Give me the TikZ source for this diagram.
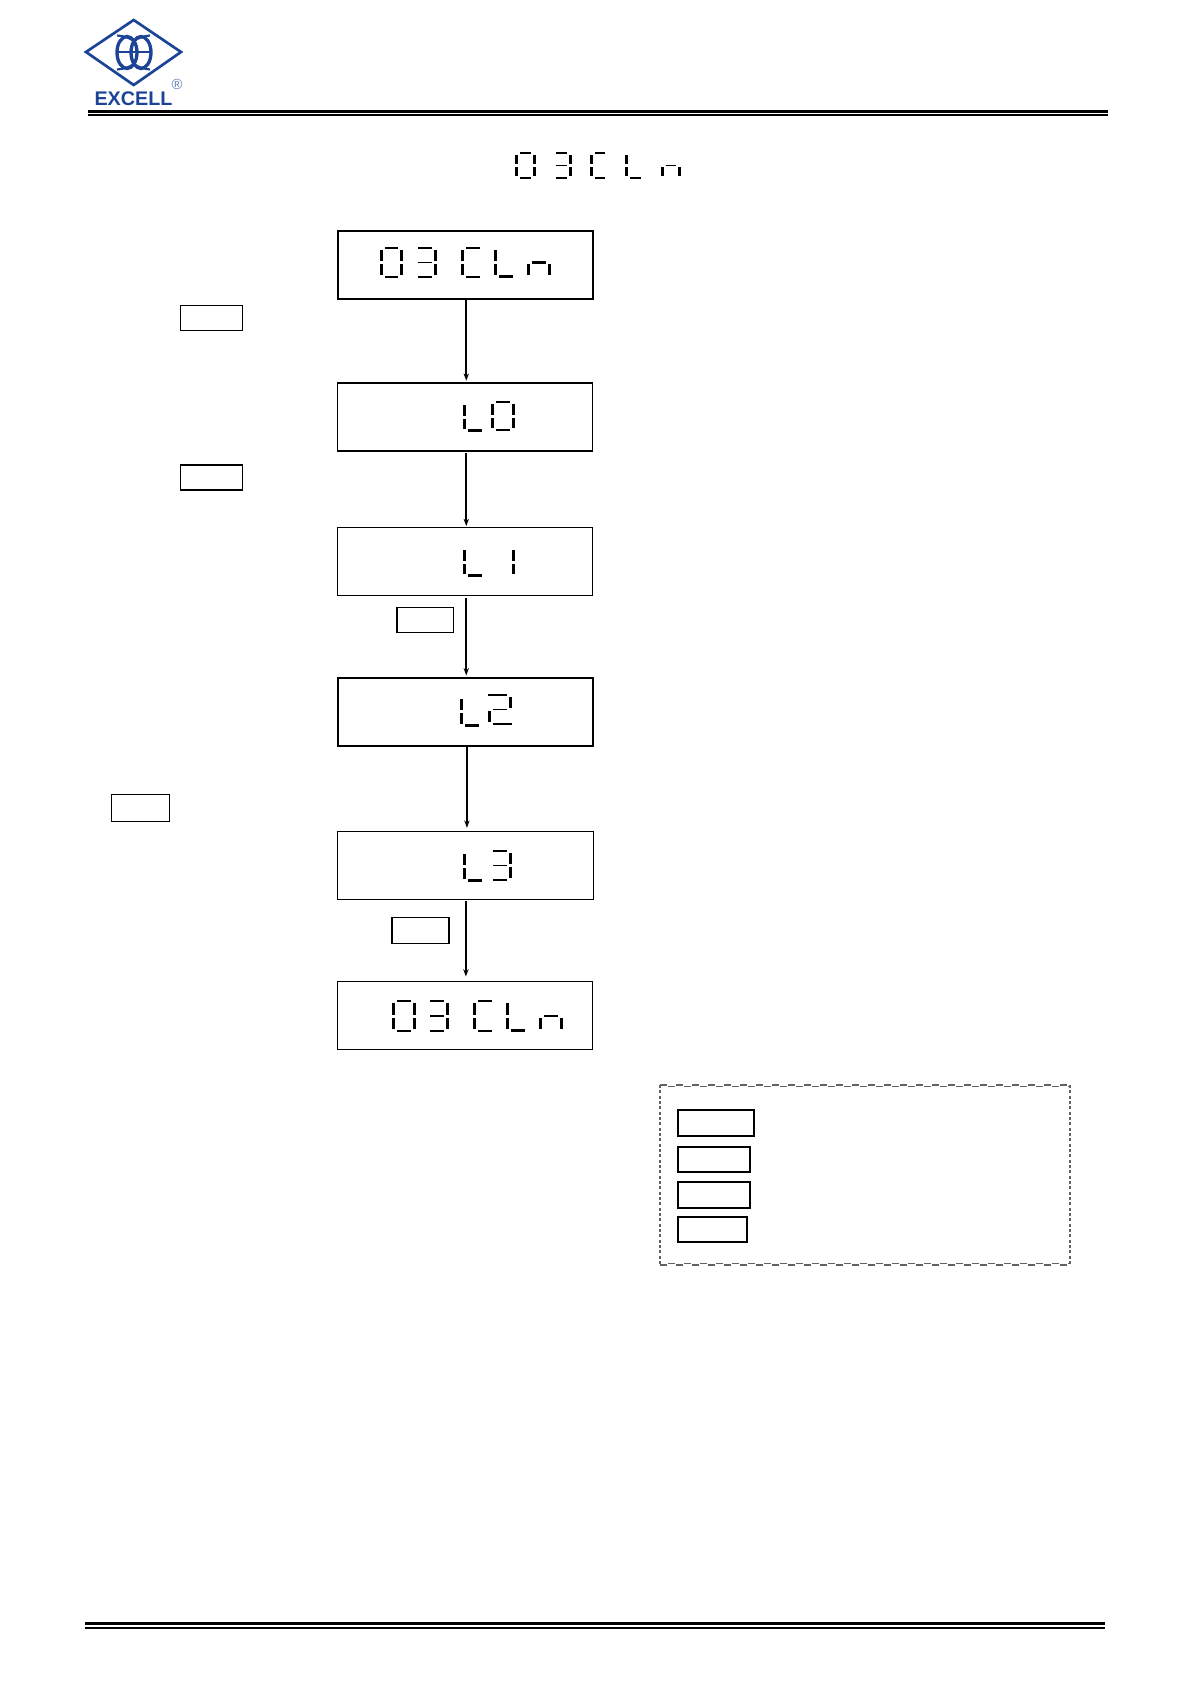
\documentclass[tikz,border=0pt]{standalone}
\usepackage{fontspec}
\setmainfont{Liberation Sans}
\usetikzlibrary{arrows.meta,calc}
\definecolor{logoblue}{HTML}{1C4496}
\tikzset{
  px/.style={x=0.75pt,y=-0.75pt},
  disp/.style={draw=black,fill=white,inner sep=0pt,minimum width=191.3pt,minimum height=51pt,line width=#1},
  disp/.default=1pt,
  keybox/.style={draw=black,fill=white,inner sep=0pt,line width=1.2pt},
  flow/.style={line width=1.25pt,-{Stealth[length=5.5pt,width=4pt]}},
  logoline/.style={draw=logoblue,line width=2pt},
  legendh/.style={draw=black!62,line width=1.2pt,dash pattern=on 5pt off 7pt},
  legendv/.style={draw=black!62,line width=1.4pt,dash pattern=on 2.2pt off 1.8pt}
}
% segments: full digit
\newcommand{\sSegA}{\fill (\xa+4.6,\ya) rectangle (\xb-4.6,\ya+1.9);}
\newcommand{\sSegB}{\fill (\xb-3.2,\ya+2.6) rectangle (\xb,\ym-1.5);}
\newcommand{\sSegC}{\fill (\xb-3.2,\ym+1.5) rectangle (\xb,\yb-2.6);}
\newcommand{\sSegD}{\fill (\xa+4.6,\yb-1.9) rectangle (\xb-4.6,\yb);}
\newcommand{\sSegE}{\fill (\xa,\ym+1.5) rectangle (\xa+3.2,\yb-2.6);}
\newcommand{\sSegF}{\fill (\xa,\ya+2.6) rectangle (\xa+3.2,\ym-1.5);}
% variants reaching the open side of the glyph
\newcommand{\sSegP}{\fill (\xa,\ya) rectangle (\xb-4.6,\ya+1.9);}
\newcommand{\sSegQ}{\fill (\xa,\yb-1.9) rectangle (\xb-4.6,\yb);}
\newcommand{\sSegR}{\fill (\xa,\ym-0.9) rectangle (\xb-4.6,\ym+0.9);}
\newcommand{\sSegS}{\fill (\xa+4.6,\ya) rectangle (\xb,\ya+1.9);}
\newcommand{\sSegT}{\fill (\xa+4.6,\yb-1.9) rectangle (\xb,\yb);}
\newcommand{\sSegU}{\fill (\xa+4.6,\ym-0.9) rectangle (\xb-4.6,\ym+0.9);}
\newcommand{\sSegK}{\fill (\xa+4.6,\yb-2.8) rectangle (\xb,\yb);}
\newcommand{\sSegH}{\fill (\xa+4.6,\ym-1.4) rectangle (\xb-4.6,\ym+1.4);}
\newcommand{\sevenseg}[5]{%
  \def\xa{#1}\def\xb{#2}\def\ya{#3}\def\yb{#4}%
  \pgfmathsetmacro{\ym}{(#3+#4)/2}%
  \foreach \s in {#5}{\csname sSeg\s\endcsname}%
}
\begin{document}
\begin{tikzpicture}[px]
\useasboundingbox (0,0) rectangle (1191,1685);
\fill[white] (0,0) rectangle (1191,1685);

% logo
\draw[logoline,line join=miter] (86,52) -- (133.7,20) -- (181,52) -- (133.7,85) -- cycle;
\draw[logoline,line width=2.5pt] (127,52.5) ellipse [x radius=10,y radius=16];
\draw[logoline,line width=2.5pt] (141,52.5) ellipse [x radius=10,y radius=16];
\draw[logoline,line width=1.6pt] (116,52) -- (151.5,52);
\draw[logoline,line width=1.6pt] (117,35.5) .. controls (124,36) and (130,38) .. (133.7,41) .. controls (138,38) and (144,36) .. (150,35.5);
\draw[logoline,line width=1.6pt] (117,69.5) .. controls (124,69) and (130,67) .. (133.7,64) .. controls (138,67) and (144,69) .. (150,69.5);
\node[text=logoblue,font=\bfseries\fontsize{14.8pt}{15pt}\selectfont,inner sep=0pt,anchor=center] (logotext) at (133.5,98.5) {EXCELL};
\node[text=logoblue!70,font=\fontsize{11pt}{12pt}\selectfont,inner sep=0pt] (logoreg) at (177,84.5) {®};

% header and footer rules
\fill (88,110) rectangle (1108,112.6);
\fill (88,114.2) rectangle (1108,116.2);
\fill (85,1622.4) rectangle (1105,1624.6);
\fill (85,1626.5) rectangle (1105,1628.6);

% title
\sevenseg{515}{536}{152}{179}{A,B,C,D,E,F}
\sevenseg{556}{572}{152}{179}{P,B,C,Q,R}
\sevenseg{590}{605}{152}{179}{S,T,E,F}
\sevenseg{625}{641}{152}{179}{T,E,F}
\sevenseg{661}{681}{152}{179}{C,E,U}

% display boxes
\node[disp=1.5pt] (d0) at (465.2,265) {};
\node[disp=0.95pt] (d1) at (465.2,417) {};
\node[disp=0.95pt] (d2) at (465.2,561.5) {};
\node[disp=1.5pt] (d3) at (465.2,712) {};
\node[disp=0.75pt] (d4) at (465.5,865) {};
\node[disp=0.75pt] (d5) at (465,1015) {};

% display contents
\sevenseg{380}{403}{247}{278}{A,B,C,D,E,F}
\sevenseg{418}{437}{247}{278}{P,B,C,Q,R}
\sevenseg{461}{480}{247}{278}{S,T,E,F}
\sevenseg{494}{513}{247}{278}{K,E,F}
\sevenseg{527}{551}{247}{278}{C,E,H}

\sevenseg{463}{482}{402}{432}{K,E,F}
\sevenseg{491}{515}{401}{431}{A,B,C,D,E,F}

\sevenseg{463}{482}{547}{577}{K,E,F}
\sevenseg{491}{515}{547}{577}{B,C}

\sevenseg{460}{479}{696}{727}{K,E,F}
\sevenseg{488}{512}{694}{725}{P,B,T,E,U}

\sevenseg{463}{482}{851}{882}{K,E,F}
\sevenseg{493}{512}{850}{881}{P,B,C,Q,R}

\sevenseg{392}{416}{1000}{1032}{A,B,C,D,E,F}
\sevenseg{430}{449}{1000}{1032}{P,B,C,Q,R}
\sevenseg{473}{492}{1000}{1032}{S,T,E,F}
\sevenseg{506}{525}{1000}{1032}{K,E,F}
\sevenseg{539}{563}{1000}{1032}{C,E,H}

% connectors
\draw[flow] ([xshift=0.8pt]d0.south) -- ([xshift=0.8pt,yshift=1.2pt]d1.north);
\draw[flow] ([xshift=0.8pt,yshift=-1.2pt]d1.south) -- ([xshift=0.8pt,yshift=0.6pt]d2.north);
\draw[flow] ([xshift=0.8pt,yshift=-1.5pt]d2.south) -- ([xshift=0.8pt,yshift=1.2pt]d3.north);
\draw[flow] ([xshift=1.3pt]d3.south) -- ([xshift=1.075pt,yshift=2pt]d4.north);
\draw[flow] ([xshift=0.3pt,yshift=-1.2pt]d4.south) -- ([xshift=0.675pt,yshift=3pt]d5.north);

% key boxes
\node[keybox,minimum width=46.5pt,minimum height=19pt] (k1) at (211.5,318) {};
\node[keybox,minimum width=46.5pt,minimum height=19pt] (k2) at (211.5,477.5) {};
\node[keybox,minimum width=42.5pt,minimum height=19pt] (k3) at (425.3,620) {};
\node[keybox,minimum width=43.5pt,minimum height=20.5pt] (k4) at (140.5,808) {};
\node[keybox,minimum width=42.5pt,minimum height=19.5pt] (k5) at (420.5,930.5) {};

% legend
\coordinate (ltl) at (660,1085);
\coordinate (ltr) at (1070,1085);
\coordinate (lbl) at (660,1265);
\coordinate (lbr) at (1070,1265);
\draw[legendh] (ltl) -- (ltr);
\draw[legendh,dash phase=6pt] ([yshift=-1.1pt]ltl) -- ([yshift=-1.1pt]ltr);
\draw[legendh] (lbl) -- (lbr);
\draw[legendh,dash phase=6pt] ([yshift=1.1pt]lbl) -- ([yshift=1.1pt]lbr);
\draw[legendv] (ltl) -- (lbl);
\draw[legendv] (ltr) -- (lbr);
\node[keybox,line width=1.4pt,minimum width=57.5pt,minimum height=19.5pt] (l1) at (716,1123) {};
\node[keybox,line width=1.4pt,minimum width=54pt,minimum height=19pt] (l2) at (713.7,1159.5) {};
\node[keybox,line width=1.4pt,minimum width=54pt,minimum height=19pt] (l3) at (713.7,1195) {};
\node[keybox,line width=1.4pt,minimum width=52pt,minimum height=19pt] (l4) at (712.3,1229.5) {};
\end{tikzpicture}
\end{document}
